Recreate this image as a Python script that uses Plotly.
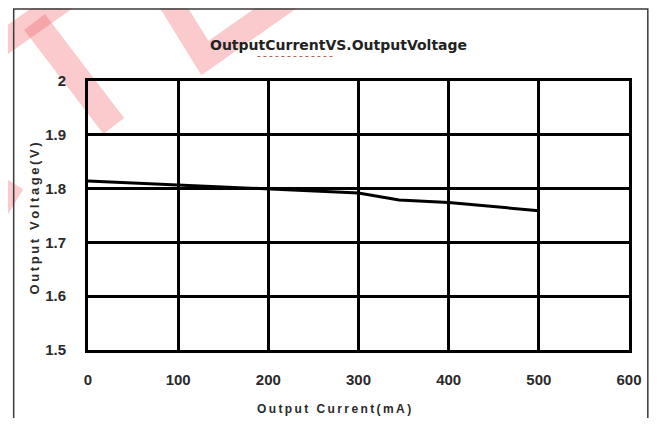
import plotly.graph_objects as go

# ---- data ----
current_ma = [0, 100, 200, 300, 345, 400, 500]
voltage_v = [1.814, 1.807, 1.799, 1.792, 1.779, 1.774, 1.759]

x_ticks = [0, 100, 200, 300, 400, 500, 600]
y_ticks = [1.5, 1.6, 1.7, 1.8, 1.9, 2.0]
y_tick_text = ["1.5", "1.6", "1.7", "1.8", "1.9", "2"]

title_text = "OutputCurrentVS.OutputVoltage"
x_title = "Output Current(mA)"
y_title = "Output Voltage(V)"

# ---- layout geometry (page pixels); page body has an 8px margin ----
OFF = 8
W, H = 662 - 2 * OFF, 410
L, R, T, B = 88, 634, 81, 350


def px(xp):
    return (xp - L) / (R - L)


def py(yp):
    return (B - yp) / (B - T)


def spaced(s, sep="\u2009"):
    return sep.join(list(s))


fig = go.Figure()
fig.add_trace(go.Scatter(
    x=current_ma, y=voltage_v, mode="lines",
    line=dict(color="black", width=3), showlegend=False, hoverinfo="skip"))

font_tick = dict(family="Liberation Sans, Arial, sans-serif", size=15, color="#2a2a2a", weight="bold")

fig.update_xaxes(
    range=[0, 600], tickvals=x_ticks, showgrid=True, gridcolor="black", gridwidth=3,
    showline=True, linecolor="black", linewidth=3, mirror=True, zeroline=False,
    ticks="", tickfont=font_tick, ticklabelstandoff=14)
fig.update_yaxes(
    range=[1.5, 2.0], tickvals=y_ticks, ticktext=y_tick_text, showgrid=True,
    gridcolor="black", gridwidth=3, showline=True, linecolor="black", linewidth=3,
    mirror=True, zeroline=False, ticks="", tickfont=font_tick, ticklabelstandoff=16)

shapes = []
pink = "rgba(240,80,90,0.30)"
# watermark strokes (decoration)
shapes.append(dict(type="line", xref="paper", yref="paper", x0=px(-5), y0=py(48), x1=px(72), y1=py(-6),
                   line=dict(color=pink, width=24), layer="below"))
shapes.append(dict(type="line", xref="paper", yref="paper", x0=px(34), y0=py(22), x1=px(114), y1=py(126),
                   line=dict(color=pink, width=26), layer="below"))
shapes.append(dict(type="path", xref="paper", yref="paper",
                   path=f"M {px(166)},{py(-6)} L {px(206)},{py(58)} L {px(298)},{py(-6)}",
                   line=dict(color=pink, width=24), layer="below"))
shapes.append(dict(type="line", xref="paper", yref="paper", x0=px(14), y0=py(184), x1=px(-8), y1=py(220),
                   line=dict(color=pink, width=20), layer="below"))
# outer frame
shapes.append(dict(type="rect", xref="paper", yref="paper", x0=px(13), y0=py(445), x1=px(653), y1=py(9),
                   line=dict(color="#3a3a3a", width=1.5), layer="below"))
# spell-check dotted underline under title
shapes.append(dict(type="line", xref="paper", yref="paper", x0=px(259), y0=py(56.5), x1=px(337), y1=py(56.5),
                   line=dict(color="#b06060", width=1, dash="dot")))
fig.update_layout(shapes=shapes)

fig.add_annotation(text=title_text, xref="paper", yref="paper", x=px(341), y=py(45),
                   showarrow=False, xanchor="center", yanchor="middle",
                   font=dict(family="DejaVu Sans, Verdana, sans-serif", size=14, color="#222", weight="bold"))
fig.add_annotation(text=spaced(x_title), xref="paper", yref="paper", x=px(336), y=py(409),
                   showarrow=False, xanchor="center", yanchor="middle",
                   font=dict(family="Liberation Sans Narrow, Liberation Sans, Arial", size=12, color="#2a2a2a", weight="bold"))
fig.add_annotation(text=spaced(y_title), xref="paper", yref="paper", x=px(33), y=py(219),
                   showarrow=False, xanchor="center", yanchor="middle", textangle=-90,
                   font=dict(family="Liberation Sans, Arial", size=13, color="#2a2a2a", weight="bold"))

fig.update_layout(
    width=W, height=H, autosize=False,
    margin=dict(l=L - OFF, r=W + OFF - R, t=T - OFF, b=H + OFF - B, pad=0),
    paper_bgcolor="white", plot_bgcolor="rgba(0,0,0,0)",
    showlegend=False)

fig.write_html("out.html")
